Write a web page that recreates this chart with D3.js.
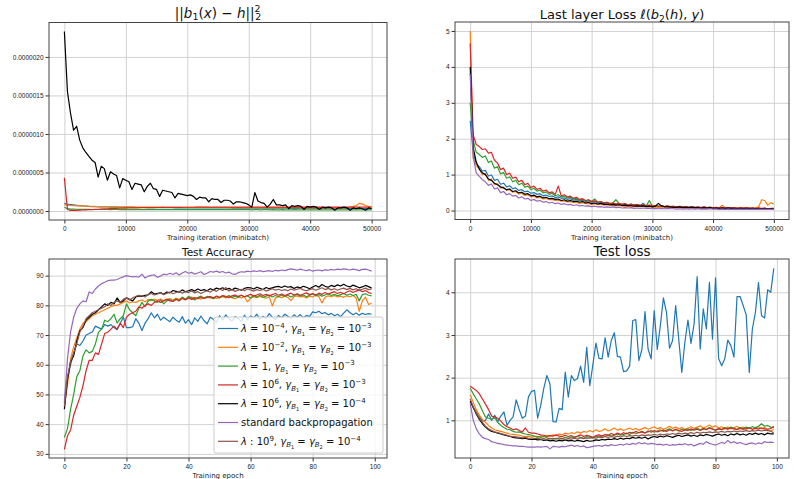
<!DOCTYPE html>
<html>
<head>
<meta charset="utf-8">
<script src="https://cdn.jsdelivr.net/npm/d3@7"></script>
<style>
body { margin: 0; background: #fff; }
svg { font-family: 'DejaVu Sans', sans-serif; }
text, tspan { white-space: pre; }
.grid line { stroke: #d2d2d2; stroke-width: 1; }
.eje text { font-size: 6.5px; fill: #222; }
.eje line { stroke: #333; }
</style>
</head>
<body>
<div id="graf"></div>
<script>
// I. Datos

colores = ['#1f77b4', '#ff7f0e', '#2ca02c', '#d62728', '#000000', '#9467bd', '#8c564b']

// leyenda: segmentos [texto, estilo] (i = italica, sp = super, sb = sub, ssb = sub-sub)
etiquetas = [
  [['λ','i'],[' = 10','n'],['−4','sp'],[', ','n'],['γ','i'],['B','sb'],['1','ssb'],[' = ','n'],['γ','i'],['B','sb'],['2','ssb'],[' = 10','n'],['−3','sp']],
  [['λ','i'],[' = 10','n'],['−2','sp'],[', ','n'],['γ','i'],['B','sb'],['1','ssb'],[' = ','n'],['γ','i'],['B','sb'],['2','ssb'],[' = 10','n'],['−3','sp']],
  [['λ','i'],[' = 1, ','n'],['γ','i'],['B','sb'],['1','ssb'],[' = ','n'],['γ','i'],['B','sb'],['2','ssb'],[' = 10','n'],['−3','sp']],
  [['λ','i'],[' = 10','n'],['6','sp'],[', ','n'],['γ','i'],['B','sb'],['1','ssb'],[' = ','n'],['γ','i'],['B','sb'],['2','ssb'],[' = 10','n'],['−3','sp']],
  [['λ','i'],[' = 10','n'],['6','sp'],[', ','n'],['γ','i'],['B','sb'],['1','ssb'],[' = ','n'],['γ','i'],['B','sb'],['2','ssb'],[' = 10','n'],['−4','sp']],
  [['standard backpropagation','n']],
  [['λ','i'],[' : 10','n'],['9','sp'],[', ','n'],['γ','i'],['B','sb'],['1','ssb'],[' = ','n'],['γ','i'],['B','sb'],['2','ssb'],[' = 10','n'],['−4','sp']]
]

// arriba izquierda: ||b1(x) - h||^2 en unidades de 1e-6, un valor cada 500 iteraciones
pasoIter = 500
b1Azul = [0.10,0.09,0.085,0.08,0.075,0.07,0.066,0.063,0.06,0.058,
  0.056,0.055,0.054,0.053,0.052,0.051,0.05,0.05,0.049,0.049,
  0.048,0.048,0.047,0.047,0.046,0.046,0.046,0.045,0.045,0.045,
  0.044,0.044,0.044,0.043,0.043,0.043,0.042,0.042,0.042,0.042,
  0.041,0.041,0.041,0.041,0.04,0.04,0.04,0.04,0.04,0.04,
  0.039,0.039,0.039,0.039,0.039,0.038,0.038,0.038,0.038,0.038,
  0.038,0.037,0.037,0.037,0.037,0.037,0.037,0.036,0.036,0.036,
  0.036,0.036,0.036,0.036,0.035,0.035,0.035,0.035,0.035,0.035,
  0.035,0.034,0.034,0.034,0.034,0.034,0.034,0.034,0.034,0.033,
  0.033,0.033,0.033,0.033,0.033,0.033,0.033,0.033,0.032,0.032,
  0.032]
b1Naranja = [0.08,0.075,0.072,0.07,0.068,0.066,0.064,0.063,0.062,0.061,
  0.06,0.059,0.058,0.057,0.057,0.056,0.056,0.055,0.055,0.054,
  0.054,0.053,0.053,0.052,0.052,0.052,0.051,0.051,0.051,0.05,
  0.05,0.05,0.05,0.049,0.049,0.049,0.049,0.048,0.048,0.048,
  0.048,0.048,0.047,0.047,0.047,0.047,0.047,0.046,0.046,0.046,
  0.046,0.046,0.046,0.045,0.045,0.045,0.045,0.045,0.045,0.045,
  0.044,0.044,0.044,0.044,0.044,0.044,0.044,0.044,0.043,0.043,
  0.043,0.043,0.043,0.043,0.043,0.043,0.043,0.042,0.042,0.042,
  0.042,0.042,0.042,0.042,0.042,0.042,0.042,0.041,0.041,0.041,
  0.041,0.041,0.045,0.05,0.06,0.07,0.10,0.09,0.07,0.06,
  0.055]
b1Verde = [0.05,0.03,0.025,0.024,0.023,0.022,0.022,0.021,0.021,0.02,
  0.02,0.02,0.021,0.02,0.02,0.019,0.02,0.02,0.019,0.02,
  0.019,0.02,0.019,0.019,0.02,0.019,0.019,0.018,0.019,0.019,
  0.019,0.018,0.019,0.018,0.018,0.019,0.018,0.018,0.018,0.019,
  0.018,0.018,0.017,0.018,0.018,0.017,0.018,0.018,0.017,0.018,
  0.017,0.017,0.018,0.017,0.017,0.017,0.018,0.017,0.017,0.017,
  0.017,0.016,0.017,0.017,0.016,0.017,0.017,0.016,0.017,0.016,
  0.016,0.017,0.016,0.016,0.016,0.017,0.016,0.016,0.016,0.016,
  0.016,0.015,0.016,0.016,0.015,0.016,0.016,0.015,0.016,0.015,
  0.015,0.016,0.015,0.015,0.015,0.016,0.015,0.015,0.015,0.015,
  0.015]
b1Rojo = [0.43,0.02,0.008,0.008,0.009,0.011,0.013,0.015,0.017,0.019,
  0.021,0.023,0.025,0.027,0.029,0.031,0.033,0.035,0.036,0.037,
  0.038,0.039,0.04,0.041,0.042,0.043,0.044,0.044,0.045,0.045,
  0.046,0.046,0.047,0.047,0.047,0.048,0.048,0.048,0.048,0.049,
  0.049,0.049,0.049,0.05,0.05,0.05,0.05,0.05,0.05,0.05,
  0.05,0.05,0.05,0.05,0.05,0.05,0.05,0.05,0.05,0.05,
  0.05,0.05,0.05,0.05,0.05,0.05,0.05,0.05,0.05,0.05,
  0.05,0.05,0.05,0.05,0.05,0.05,0.05,0.05,0.05,0.05,
  0.05,0.05,0.05,0.05,0.05,0.05,0.05,0.05,0.05,0.05,
  0.05,0.05,0.05,0.05,0.05,0.05,0.05,0.05,0.05,0.05,
  0.05]
b1Negro = [2.33,1.55,1.27,1.05,1.10,0.92,0.82,0.76,0.71,0.66,
  0.63,0.44,0.58,0.55,0.40,0.51,0.48,0.46,0.30,0.42,
  0.40,0.38,0.28,0.36,0.35,0.34,0.25,0.32,0.36,0.29,
  0.28,0.19,0.27,0.26,0.25,0.24,0.17,0.23,0.22,0.21,
  0.20,0.21,0.19,0.15,0.18,0.17,0.17,0.12,0.16,0.15,
  0.15,0.11,0.14,0.14,0.13,0.09,0.12,0.12,0.11,0.10,
  0.08,0.05,0.24,0.13,0.11,0.10,0.05,0.09,0.15,0.08,
  0.08,0.07,0.08,0.03,0.07,0.06,0.07,0.06,0.02,0.06,
  0.05,0.06,0.05,0.02,0.05,0.04,0.05,0.04,0.01,0.04,
  0.04,0.05,0.04,0.01,0.04,0.03,0.04,0.03,0.01,0.04,
  0.03]

// arriba derecha: perdida de la ultima capa, un valor cada 500 iteraciones
llAzul = [2.50,1.60,1.30,1.22,1.10,1.12,0.96,0.99,0.84,0.87,
  0.73,0.76,0.66,0.69,0.61,0.63,0.56,0.58,0.52,0.54,
  0.48,0.50,0.45,0.47,0.41,0.43,0.39,0.41,0.36,0.38,
  0.34,0.35,0.31,0.33,0.29,0.31,0.27,0.29,0.25,0.27,
  0.23,0.25,0.22,0.23,0.20,0.22,0.19,0.20,0.18,0.19,
  0.16,0.18,0.15,0.17,0.15,0.16,0.14,0.20,0.13,0.14,
  0.12,0.13,0.11,0.12,0.11,0.12,0.10,0.11,0.10,0.11,
  0.09,0.10,0.09,0.10,0.08,0.09,0.08,0.09,0.08,0.09,
  0.07,0.08,0.07,0.08,0.07,0.07,0.06,0.07,0.06,0.07,
  0.06,0.07,0.06,0.06,0.05,0.06,0.05,0.06,0.05,0.05,
  0.05]
llNaranja = [5.00,1.45,1.25,1.16,1.00,1.04,0.84,0.88,0.72,0.75,
  0.62,0.65,0.56,0.58,0.51,0.53,0.46,0.48,0.42,0.44,
  0.38,0.40,0.35,0.37,0.32,0.34,0.30,0.31,0.28,0.29,
  0.26,0.27,0.24,0.25,0.22,0.23,0.20,0.22,0.19,0.20,
  0.17,0.19,0.16,0.18,0.15,0.16,0.14,0.15,0.13,0.14,
  0.12,0.13,0.12,0.13,0.11,0.12,0.11,0.12,0.10,0.11,
  0.09,0.10,0.09,0.10,0.09,0.10,0.08,0.09,0.08,0.09,
  0.08,0.09,0.08,0.08,0.07,0.08,0.07,0.08,0.07,0.08,
  0.07,0.08,0.07,0.15,0.08,0.07,0.08,0.07,0.08,0.07,
  0.08,0.07,0.08,0.07,0.08,0.10,0.30,0.28,0.15,0.22,
  0.18]
llVerde = [3.00,1.95,1.62,1.56,1.48,1.52,1.34,1.38,1.18,1.22,
  1.02,1.06,0.90,0.94,0.80,0.84,0.72,0.76,0.65,0.68,
  0.58,0.62,0.54,0.57,0.49,0.52,0.45,0.48,0.41,0.44,
  0.38,0.40,0.35,0.37,0.32,0.34,0.29,0.31,0.27,0.29,
  0.25,0.32,0.23,0.25,0.21,0.23,0.20,0.21,0.30,0.20,
  0.17,0.18,0.16,0.17,0.15,0.16,0.14,0.15,0.13,0.28,
  0.12,0.13,0.11,0.12,0.11,0.12,0.10,0.11,0.10,0.11,
  0.09,0.10,0.09,0.10,0.08,0.09,0.08,0.09,0.08,0.09,
  0.07,0.08,0.07,0.08,0.07,0.08,0.06,0.07,0.06,0.07,
  0.06,0.07,0.06,0.06,0.05,0.06,0.05,0.06,0.05,0.05,
  0.05]
llRojo = [4.65,2.10,1.84,1.78,1.70,1.72,1.60,1.62,1.40,1.32,
  1.14,1.18,1.00,1.04,0.90,0.93,0.80,0.84,0.72,0.76,
  0.64,0.68,0.59,0.62,0.54,0.57,0.49,0.52,0.45,0.68,
  0.41,0.44,0.38,0.40,0.34,0.37,0.31,0.33,0.28,0.30,
  0.25,0.27,0.23,0.25,0.21,0.23,0.19,0.21,0.18,0.20,
  0.17,0.19,0.16,0.18,0.15,0.17,0.14,0.16,0.13,0.15,
  0.13,0.14,0.12,0.13,0.11,0.13,0.11,0.12,0.10,0.12,
  0.10,0.11,0.09,0.11,0.09,0.10,0.08,0.10,0.08,0.09,
  0.08,0.09,0.07,0.09,0.07,0.08,0.07,0.08,0.06,0.08,
  0.07,0.08,0.06,0.07,0.06,0.07,0.06,0.07,0.05,0.06,
  0.06]
llNegro = [4.00,1.75,1.35,1.15,1.05,1.00,0.88,0.84,0.76,0.72,
  0.66,0.63,0.58,0.60,0.53,0.55,0.49,0.51,0.45,0.47,
  0.41,0.43,0.38,0.40,0.35,0.37,0.33,0.34,0.31,0.32,
  0.28,0.30,0.26,0.28,0.25,0.26,0.23,0.25,0.21,0.23,
  0.19,0.21,0.18,0.20,0.17,0.18,0.16,0.17,0.15,0.16,
  0.14,0.15,0.13,0.14,0.12,0.13,0.12,0.13,0.11,0.12,
  0.10,0.12,0.20,0.13,0.11,0.10,0.10,0.09,0.09,0.10,
  0.08,0.09,0.08,0.09,0.08,0.08,0.07,0.08,0.07,0.08,
  0.06,0.07,0.06,0.07,0.06,0.07,0.06,0.06,0.05,0.06,
  0.05,0.06,0.05,0.06,0.05,0.06,0.05,0.05,0.05,0.05,
  0.05]
llMorado = [3.80,1.50,1.05,0.95,0.86,0.80,0.70,0.74,0.60,0.63,
  0.50,0.53,0.44,0.47,0.40,0.42,0.35,0.38,0.32,0.34,
  0.28,0.31,0.26,0.28,0.23,0.25,0.21,0.23,0.19,0.21,
  0.17,0.19,0.16,0.17,0.14,0.16,0.13,0.14,0.12,0.13,
  0.11,0.12,0.10,0.11,0.09,0.10,0.09,0.10,0.08,0.09,
  0.07,0.08,0.07,0.08,0.06,0.07,0.06,0.07,0.06,0.06,
  0.05,0.06,0.05,0.06,0.05,0.06,0.05,0.05,0.04,0.05,
  0.04,0.05,0.04,0.05,0.04,0.05,0.04,0.04,0.04,0.05,
  0.04,0.04,0.03,0.04,0.03,0.04,0.03,0.04,0.03,0.04,
  0.03,0.04,0.03,0.04,0.03,0.04,0.03,0.03,0.03,0.03,
  0.03]

// abajo izquierda: precision en test por epoca (0..99)
accAzul = [48,55,60,64,67,66.5,68,70,70.5,71,
  73,72.5,72,73.5,73,73.5,72.5,71.8,74,76,
  72.5,72.5,72.8,75.5,74,71.5,74,75.5,77.5,75.8,
  77,75,76,75.2,74.5,76,75,74.3,76.2,74,
  75.2,73.5,75.8,74.6,76.4,74.8,73.8,76,75.3,74.2,
  76.5,75,76.8,75.4,74.8,76.2,75.6,74.5,76.7,75.2,
  76.4,75.8,77,75.4,76.3,75.6,77.2,76,75.2,76.6,
  75.8,77,76.3,75.6,76.8,76,76.9,75.8,76.6,76.2,
  77.8,77.5,78,77.2,77.6,76.8,77.3,76.5,77,76.2,
  77.4,78.5,77.6,76.8,77.4,76.7,77.3,76.9,77.2,77]
accNaranja = [46,53,62,66,69,72,74,74.5,75.5,76.5,
  77,77.5,78,78.5,79,79.5,80,80,80.5,81,
  81.5,80.8,81.2,81,81.5,81.8,81.2,82,81.6,82,
  81.7,82.1,81.5,82,82.3,81.8,82.4,82,82.6,82.2,
  82.5,82.8,82.3,82.6,82.1,82.5,82.9,82.4,82.7,82.3,
  82.6,82.9,82.5,82.9,82.6,82.2,82.8,82.5,82.9,81.2,
  82.4,82.9,82.6,83,82.7,82.4,82.9,79.8,82.5,82.9,
  82.6,83.1,82.7,81.6,82.9,83.2,82.8,83,82.5,83.1,
  82.8,83.4,82.9,80.8,82.7,83.2,82.9,83.3,82.8,83.1,
  82.7,83.2,82.9,83.3,82.5,78,81.5,82.8,80.3,80.7]
accVerde = [35.5,38.5,45,50,56,58,63,65,64,64.5,
  67,71,72,75,74.5,75.5,77,74,75.5,76.5,
  80.5,78.5,77.5,76.5,79,81,79.5,81.5,82,81.5,
  81,81.8,80.5,81.5,82,81.3,82.2,81.5,82.8,82,
  83,82.5,81.8,82.6,83.1,82.4,83,82.7,82.2,83,
  82.5,83.2,82.8,83.3,82.6,83.1,82.7,83.4,82.9,83.2,
  82.5,83.3,82.8,83.4,82.7,83.1,83.5,82.8,83.3,82.9,
  83.5,83,83.4,82.8,83.3,83.7,83.1,83.5,82.9,83.4,
  83.8,83.2,83.6,83.1,83.5,83.9,83.3,83.7,83.2,83.6,
  84,83.4,83.8,83.3,83.7,81.5,83.6,83.9,83.4,83.2]
accRojo = [31.5,36,38,43,46,49,53,58,61.5,61.5,
  64,63.5,67,70.5,71,72,73,72,74,72.5,
  76,77,77.5,78,79.5,79,80,80.5,80,81,
  81.5,81,81.5,82,81.5,81.3,82,81.6,82.3,81.8,
  82.5,82,82.6,82.2,82.8,82.3,82.7,83,82.5,83.1,
  82.7,83.3,83,82.6,83.2,83.5,83,83.4,82.9,83.3,
  83.7,83.1,83.5,83.9,83.3,83.7,83.2,83.6,84,83.4,
  83.8,83.3,83.7,84.1,83.5,83.9,83.4,83.8,84.2,83.6,
  84,83.5,84.1,83.7,84.3,83.8,84.2,84.6,84,84.4,
  83.9,84.5,84.9,84.3,84.8,85.2,84.6,85,84.3,84]
accNegro = [45,55,61,63,68,71.5,72.5,75,76,77,
  77.5,78.5,79.5,80.5,80,81,80.5,82.5,81,81.5,
  82.5,82,81.5,82.8,83.2,83,83.4,83.5,84.6,83.8,
  84,84.3,83.7,84.5,84.2,85,84.7,84.4,85.2,84.6,
  84.9,85.3,84.8,85.5,85,85.3,84.9,85.6,85.2,85.8,
  85.5,85.9,85.3,85.7,85.2,85.8,85.5,85.1,85.7,86,
  85.9,85.5,86.1,85.7,85.3,86,85.6,85.9,86.2,86.4,
  86,86.5,86.1,86.3,85.7,86.2,85.9,86.4,86.1,85.6,
  86.2,86.7,86.1,87,86.4,86.1,86.7,86.3,86.9,86.5,
  87.1,86.5,86.2,86.8,86.4,85.9,86.2,86.7,86.3,85.8]
accMorado = [47,62,71,76,79,80.5,81.5,81.2,84.5,84,
  85.5,86.5,87.3,87.8,88.3,88.5,88.5,88.7,89.2,89.6,
  90,89.8,89.6,89.7,89.5,90.5,89.2,89.8,90.1,90.3,
  89.4,89.9,90.5,90.3,90.8,90.4,91,90.2,90.9,91.4,
  90.8,91.1,90.5,90.9,91.3,90.4,90.8,91.4,91.2,91.5,
  91.1,91.4,90.9,91.2,90.6,90.4,91,91.3,91.2,91.5,
  91.3,91.6,91.4,91.7,91.3,91.5,91.7,91.4,91.8,91.6,
  91.9,91.7,92,92.3,92.1,91.8,92.2,91.9,91.7,92,
  91.5,91.8,91.9,91.6,92,91.8,92.1,91.9,92.2,92,
  92.3,92.1,91.9,92.2,92,91.7,92.1,92.2,91.9,91.5]
accCafe = [46,56,61,64,67,71,73,75.5,76.5,77.5,
  78,78.5,79,79.5,80.5,80,81,81.5,81,82,
  82.5,81.8,82.5,83,83.4,83.2,82.8,83.6,84,83.5,
  83.8,84.2,83.6,84,84.5,83.9,84.3,84.7,84.1,84.6,
  84.3,84.8,84.2,84.6,84,84.5,84.9,84.4,85.2,84.7,
  85.5,85,86,84.8,85.3,84.7,85.1,85.4,84.9,85.5,
  85.2,84.8,85.3,85,85.4,84.8,85.2,85.6,85.1,85.4,
  85,85.3,84.9,85.5,85.1,85.4,85.7,85.2,84.9,85.3,
  85.6,85.1,85.5,85.9,85.3,85.7,85.2,85.6,85.1,85.5,
  85.8,85.3,85.7,85.2,85.6,85.1,85.4,85.8,85.3,85.5]

// abajo derecha: perdida en test por epoca (0..99)
tlAzul = [1.45,1.3,1.18,1.08,0.98,1.0,1.15,1.0,1.12,0.97,
  1.1,1.2,0.88,1.0,1.08,1.48,1.25,1.05,1.1,1.55,
  1.68,1.70,1.05,1.35,1.75,2.05,1.85,0.97,0.96,1.28,
  1.25,2.13,1.54,2.05,1.93,1.98,2.27,1.89,2.71,1.81,
  2.3,2.81,2.45,2.44,2.93,2.48,2.87,3.05,2.5,2.48,
  2.14,2.16,2.27,3.34,3.36,2.4,2.66,3.55,2.67,2.44,
  3.57,2.66,3.22,3.87,3.53,2.69,2.87,3.69,2.9,2.12,
  2.83,3.35,2.8,3.26,4.37,2.67,3.61,3.14,4.23,2.9,
  4.34,2.45,2.28,2.44,2.88,2.75,2.48,3.9,3.9,3.69,
  3.47,2.12,3.14,3.53,4.23,3.45,3.4,4.06,4.0,4.56]
tlNaranja = [1.6,1.42,1.25,1.12,1.02,0.95,0.88,0.82,0.78,0.76,
  0.74,0.72,0.7,0.68,0.67,0.66,0.65,0.63,0.62,0.63,
  0.61,0.62,0.6,0.63,0.62,0.65,0.63,0.66,0.64,0.68,
  0.66,0.7,0.68,0.71,0.69,0.73,0.7,0.74,0.72,0.76,
  0.73,0.78,0.74,0.76,0.8,0.75,0.78,0.82,0.77,0.8,
  0.76,0.79,0.82,0.78,0.81,0.77,0.8,0.83,0.79,0.82,
  0.85,0.8,0.83,0.79,0.82,0.86,0.81,0.84,0.8,0.83,
  0.79,0.82,0.85,0.81,0.84,0.87,0.82,0.85,0.89,0.84,
  0.87,0.82,0.85,0.81,0.84,0.8,0.83,0.86,0.81,0.84,
  0.8,0.83,0.79,0.82,0.85,0.8,0.83,0.78,0.74,0.8]
tlVerde = [1.75,1.62,1.5,1.38,1.22,1.08,1.05,1.02,1.06,0.95,
  0.88,0.83,0.79,0.78,0.74,0.72,0.73,0.7,0.68,0.67,
  0.65,0.63,0.62,0.6,0.62,0.59,0.57,0.58,0.56,0.59,
  0.57,0.6,0.58,0.61,0.59,0.62,0.6,0.58,0.62,0.6,
  0.58,0.62,0.61,0.64,0.62,0.66,0.63,0.65,0.68,0.65,
  0.67,0.7,0.67,0.72,0.69,0.71,0.74,0.71,0.73,0.76,
  0.72,0.75,0.78,0.74,0.77,0.8,0.76,0.78,0.75,0.79,
  0.77,0.8,0.76,0.79,0.82,0.78,0.81,0.79,0.83,0.8,
  0.77,0.81,0.79,0.83,0.8,0.84,0.81,0.79,0.83,0.8,
  0.84,0.82,0.85,0.83,0.86,0.92,0.86,0.88,0.84,0.83]
tlRojo = [1.8,1.75,1.7,1.62,1.5,1.38,1.25,1.1,1.08,1.05,
  0.98,0.9,0.85,0.82,0.78,0.8,0.76,0.73,0.82,0.72,
  0.7,0.7,0.68,0.66,0.65,0.62,0.64,0.63,0.66,0.63,
  0.62,0.65,0.62,0.64,0.61,0.63,0.66,0.62,0.65,0.63,
  0.6,0.64,0.66,0.63,0.67,0.65,0.69,0.66,0.7,0.67,
  0.71,0.68,0.72,0.7,0.74,0.71,0.73,0.7,0.75,0.72,
  0.76,0.73,0.75,0.77,0.74,0.78,0.75,0.79,0.76,0.74,
  0.78,0.76,0.8,0.77,0.79,0.76,0.8,0.78,0.82,0.79,
  0.77,0.8,0.78,0.81,0.79,0.82,0.8,0.78,0.81,0.79,
  0.8,0.82,0.79,0.81,0.8,0.82,0.8,0.79,0.81,0.86]
tlNegro = [1.45,1.3,1.15,1.02,0.92,0.84,0.78,0.74,0.72,0.7,
  0.68,0.66,0.64,0.62,0.6,0.59,0.58,0.57,0.58,0.56,
  0.55,0.56,0.54,0.55,0.53,0.54,0.52,0.53,0.51,0.53,
  0.52,0.54,0.52,0.53,0.51,0.53,0.52,0.5,0.53,0.51,
  0.52,0.54,0.53,0.55,0.54,0.56,0.55,0.57,0.55,0.58,
  0.56,0.58,0.57,0.6,0.58,0.6,0.58,0.61,0.56,0.6,
  0.62,0.6,0.63,0.61,0.64,0.62,0.6,0.63,0.65,0.62,
  0.64,0.66,0.63,0.65,0.62,0.66,0.64,0.67,0.65,0.63,
  0.66,0.68,0.65,0.67,0.64,0.68,0.66,0.69,0.66,0.68,
  0.65,0.69,0.67,0.7,0.67,0.69,0.66,0.7,0.68,0.68]
tlMorado = [1.4,1.0,0.8,0.68,0.6,0.57,0.55,0.5,0.48,0.46,
  0.45,0.43,0.42,0.41,0.4,0.4,0.39,0.39,0.38,0.37,
  0.37,0.37,0.38,0.37,0.38,0.39,0.33,0.39,0.38,0.37,
  0.39,0.38,0.4,0.42,0.39,0.41,0.38,0.4,0.36,0.37,
  0.39,0.4,0.41,0.39,0.42,0.4,0.43,0.41,0.42,0.44,
  0.42,0.45,0.43,0.46,0.44,0.48,0.45,0.47,0.44,0.46,
  0.45,0.43,0.44,0.42,0.44,0.41,0.43,0.42,0.44,0.43,
  0.45,0.42,0.44,0.4,0.43,0.46,0.44,0.5,0.46,0.44,
  0.42,0.45,0.48,0.46,0.53,0.47,0.5,0.46,0.48,0.45,
  0.43,0.46,0.47,0.44,0.47,0.45,0.5,0.48,0.49,0.48]
tlCafe = [1.5,1.32,1.18,1.05,0.95,0.86,0.8,0.76,0.73,0.71,
  0.69,0.67,0.65,0.63,0.62,0.61,0.6,0.59,0.6,0.58,
  0.58,0.57,0.58,0.56,0.57,0.55,0.57,0.56,0.58,0.56,
  0.57,0.55,0.57,0.56,0.58,0.56,0.59,0.57,0.59,0.58,
  0.6,0.58,0.61,0.59,0.62,0.6,0.62,0.6,0.63,0.61,
  0.64,0.62,0.64,0.63,0.65,0.63,0.66,0.64,0.66,0.65,
  0.67,0.65,0.68,0.66,0.68,0.67,0.69,0.67,0.7,0.68,
  0.7,0.69,0.71,0.69,0.72,0.7,0.72,0.71,0.73,0.71,
  0.73,0.72,0.74,0.72,0.74,0.73,0.75,0.73,0.75,0.74,
  0.76,0.74,0.76,0.75,0.77,0.75,0.77,0.76,0.75,0.7]

ticksIter = [0, 10000, 20000, 30000, 40000, 50000]
ticksEpoca = [0, 20, 40, 60, 80, 100]
ticksB1 = [0, 0.5, 1, 1.5, 2]
ticksLL = [0, 1, 2, 3, 4, 5]
ticksAcc = [30, 40, 50, 60, 70, 80, 90]
ticksTL = [1, 2, 3, 4]


// II. Configuracion

ancho_total = 796
alto_total = 479

svg = d3.select('#graf').append('svg')
        .attr('width', ancho_total)
        .attr('height', alto_total)

estilos = {
  n:   { shift: 0,     scale: 1,    italic: false },
  i:   { shift: 0,     scale: 1,    italic: true },
  sp:  { shift: -0.42, scale: 0.7,  italic: false },
  sb:  { shift: 0.22,  scale: 0.7,  italic: true },
  sbn: { shift: 0.22,  scale: 0.7,  italic: false },
  ssb: { shift: 0.4,   scale: 0.5,  italic: false }
}

// texto con sub/superindices en tspans
function escribir(texto, segs, size) {
  let off = 0
  segs.forEach(s => {
    const e = estilos[s[1]]
    const sh = e.shift * size
    texto.append('tspan')
      .attr('dy', sh - off)
      .attr('dx', s[2] ? s[2] * size : null)
      .attr('font-size', size * e.scale)
      .attr('font-style', e.italic ? 'italic' : 'normal')
      .text(s[0])
    off = sh
  })
}

function panel(cfg) {
  const g = svg.append('g')
        .attr('transform', `translate(${cfg.left}, ${cfg.top})`)

  const x = d3.scaleLinear().domain(cfg.xDom).range([0, cfg.w])
  const y = d3.scaleLinear().domain(cfg.yDom).range([cfg.h, 0])

  // rejilla
  g.append('g').attr('class', 'grid')
        .attr('transform', `translate(0, ${cfg.h})`)
        .call(d3.axisBottom(x).tickValues(cfg.xTicks).tickSize(-cfg.h).tickFormat(''))
  g.append('g').attr('class', 'grid')
        .call(d3.axisLeft(y).tickValues(cfg.yTicks).tickSize(-cfg.w).tickFormat(''))
  g.selectAll('.grid .domain').remove()

  g.append('clipPath').attr('id', 'clip' + cfg.id)
        .append('rect').attr('width', cfg.w).attr('height', cfg.h)

  const capa = g.append('g').attr('clip-path', `url(#clip${cfg.id})`)

  const linea = d3.line()
        .x((d, i) => x(i * cfg.paso))
        .y(d => y(d))
        .curve(cfg.curva)

  cfg.series.forEach(s => {
    capa.append('path')
        .datum(s.valores)
        .attr('d', linea)
        .attr('fill', 'none')
        .attr('stroke', s.color)
        .attr('stroke-width', 1.2)
        .attr('stroke-linejoin', 'round')
  })

  // ejes
  const ejeX = g.append('g').attr('class', 'eje')
        .attr('transform', `translate(0, ${cfg.h})`)
        .call(d3.axisBottom(x).tickValues(cfg.xTicks).tickSize(3.5).tickPadding(3).tickFormat(cfg.xFmt))
  const ejeY = g.append('g').attr('class', 'eje')
        .call(d3.axisLeft(y).tickValues(cfg.yTicks).tickSize(3.5).tickPadding(2).tickFormat(cfg.yFmt))
  ejeX.select('.domain').remove()
  ejeY.select('.domain').remove()

  g.append('rect')
        .attr('width', cfg.w).attr('height', cfg.h)
        .attr('fill', 'none')
        .attr('stroke', '#444')
        .attr('stroke-width', 1)

  // titulo y etiqueta
  const titulo = g.append('text')
        .attr('x', cfg.w / 2)
        .attr('y', cfg.tituloY)
        .attr('text-anchor', 'middle')
        .attr('fill', '#111')
  escribir(titulo, cfg.titulo, cfg.tituloSize)

  g.append('text')
        .attr('x', cfg.w / 2)
        .attr('y', cfg.h + cfg.etiquetaY)
        .attr('text-anchor', 'middle')
        .attr('font-size', 7)
        .attr('fill', '#222')
        .text(cfg.etiqueta)

  return { g, x, y }
}

fmtEntero = d3.format('d')


// III. Render

panel({
  id: 'b1', left: 49, top: 22.5, w: 338, h: 197.5,
  xDom: [-2500, 52500], yDom: [-0.1165, 2.4465],
  xTicks: ticksIter, yTicks: ticksB1, paso: pasoIter,
  xFmt: fmtEntero, yFmt: d => (d * 1e-6).toFixed(7),
  curva: d3.curveLinear,
  series: [
    { valores: b1Azul, color: colores[0] },
    { valores: b1Naranja, color: colores[1] },
    { valores: b1Verde, color: colores[2] },
    { valores: b1Rojo, color: colores[3] },
    { valores: b1Negro, color: colores[4] }
  ],
  titulo: [['||','n'],['b','i'],['1','sbn'],['(','n'],['x','i'],[')','n'],[' − ','n'],['h','i'],['||','n'],['2','sp'],['2','sbn',-0.4]],
  tituloSize: 13.5, tituloY: -5,
  etiqueta: 'Training iteration (minibatch)', etiquetaY: 20
})

panel({
  id: 'll', left: 455, top: 22, w: 334, h: 197.5,
  xDom: [-2500, 52500], yDom: [-0.25, 5.25],
  xTicks: ticksIter, yTicks: ticksLL, paso: pasoIter,
  xFmt: fmtEntero, yFmt: fmtEntero,
  curva: d3.curveLinear,
  series: [
    { valores: llAzul, color: colores[0] },
    { valores: llNaranja, color: colores[1] },
    { valores: llVerde, color: colores[2] },
    { valores: llRojo, color: colores[3] },
    { valores: llNegro, color: colores[4] },
    { valores: llMorado, color: colores[5] }
  ],
  titulo: [['Last layer Loss ','n'],['ℓ','i'],['(','n'],['b','i'],['2','sbn'],['(','n'],['h','i'],['), ','n'],['y','i'],[')','n']],
  tituloSize: 13, tituloY: -3,
  etiqueta: 'Training iteration (minibatch)', etiquetaY: 20
})

acc = panel({
  id: 'acc', left: 49, top: 259, w: 338, h: 199,
  xDom: [-4.95, 103.95], yDom: [28.6, 95.6],
  xTicks: ticksEpoca, yTicks: ticksAcc, paso: 1,
  xFmt: fmtEntero, yFmt: fmtEntero,
  curva: d3.curveLinear,
  series: [
    { valores: accAzul, color: colores[0] },
    { valores: accNaranja, color: colores[1] },
    { valores: accVerde, color: colores[2] },
    { valores: accRojo, color: colores[3] },
    { valores: accNegro, color: colores[4] },
    { valores: accMorado, color: colores[5] },
    { valores: accCafe, color: colores[6] }
  ],
  titulo: [['Test Accuracy','n']],
  tituloSize: 10.5, tituloY: -3,
  etiqueta: 'Training epoch', etiquetaY: 19.5
})

panel({
  id: 'tl', left: 455, top: 259, w: 334, h: 199,
  xDom: [-4.95, 103.95], yDom: [0.117, 4.78],
  xTicks: ticksEpoca, yTicks: ticksTL, paso: 1,
  xFmt: fmtEntero, yFmt: fmtEntero,
  curva: d3.curveLinear,
  series: [
    { valores: tlAzul, color: colores[0] },
    { valores: tlNaranja, color: colores[1] },
    { valores: tlVerde, color: colores[2] },
    { valores: tlRojo, color: colores[3] },
    { valores: tlNegro, color: colores[4] },
    { valores: tlMorado, color: colores[5] },
    { valores: tlCafe, color: colores[6] }
  ],
  titulo: [['Test loss','n']],
  tituloSize: 13.5, tituloY: -3,
  etiqueta: 'Training epoch', etiquetaY: 19.5
})

// leyenda de la precision
leyenda = acc.g.append('g')
        .attr('transform', 'translate(165, 58)')

leyenda.append('rect')
        .attr('width', 169).attr('height', 136)
        .attr('rx', 2)
        .attr('fill', '#fff').attr('fill-opacity', 0.8)
        .attr('stroke', '#ccc')

filas = leyenda.selectAll('g.fila')
        .data(etiquetas)
        .enter().append('g')
        .attr('class', 'fila')
        .attr('transform', (d, i) => `translate(0, ${11.5 + i * 18.8})`)

filas.append('line')
        .attr('x1', 4).attr('x2', 24)
        .attr('stroke', (d, i) => colores[i])
        .attr('stroke-width', 1.2)

filas.each(function(d) {
  const t = d3.select(this).append('text')
        .attr('x', 27).attr('y', 3.5)
        .attr('fill', '#111')
  escribir(t, d, 10)
})
</script>
</body>
</html>
